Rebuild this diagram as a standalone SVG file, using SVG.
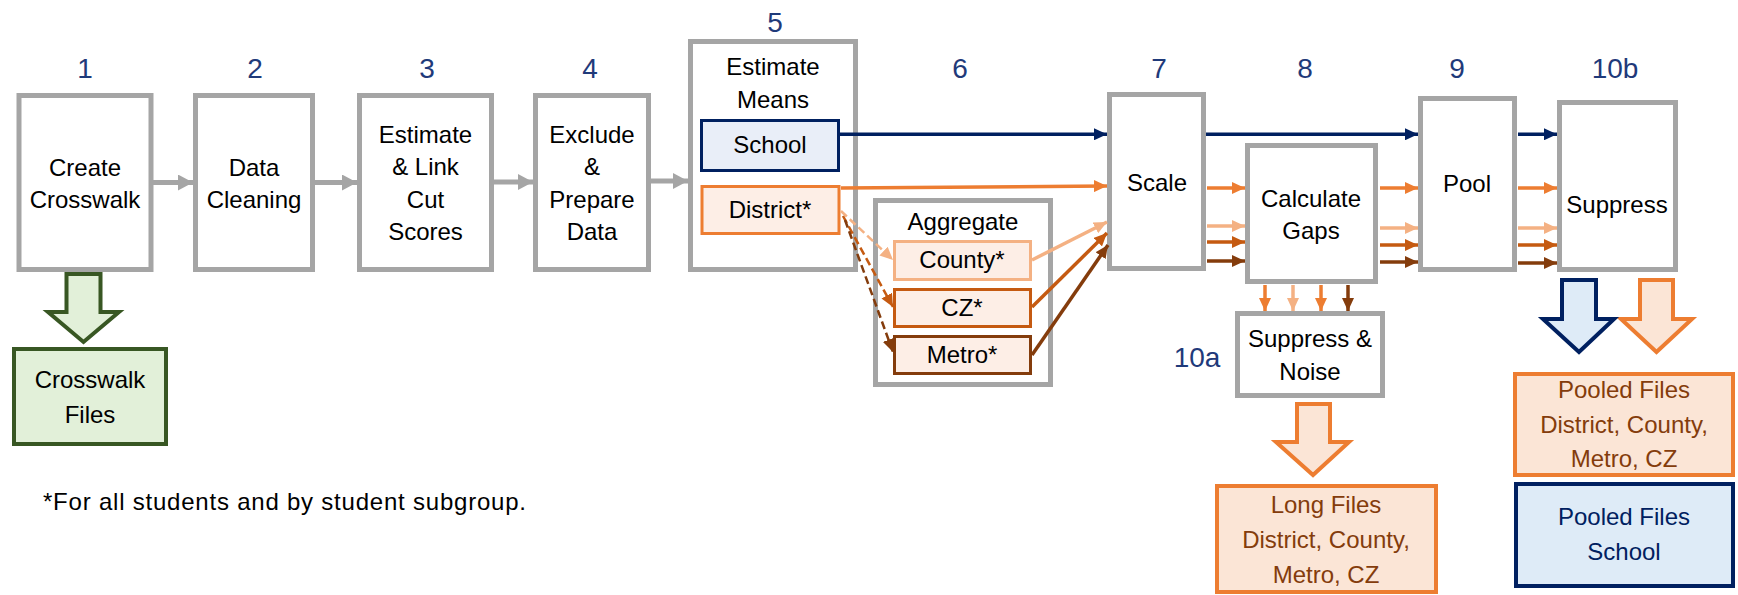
<svg xmlns="http://www.w3.org/2000/svg" width="1738" height="595" viewBox="0 0 1738 595">
  <style>
    text { font-family: "Liberation Sans", Arial, sans-serif; font-size: 24px; fill: #000; text-anchor: middle; }
    .num { font-size: 28px; fill: #1F3A7A; }
    .step { fill: #fff; stroke: #A5A5A5; stroke-width: 5; }
    .school { fill: #E9EEF8; stroke: #002060; stroke-width: 3; }
    .peach { fill: #FDEEE6; stroke-width: 3; }
    .outO { fill: #FBE5D6; stroke: #ED7D31; stroke-width: 4; }
    .outB { fill: #DEEBF7; stroke: #002060; stroke-width: 4; }
    .outG { fill: #E2F0D9; stroke: #385723; stroke-width: 4; }
    .brown { fill: #843C0C; }
    .navy { fill: #002060; }
    .gray { stroke: #A5A5A5; stroke-width: 5; fill: none; }
    .l { stroke-width: 3.5; fill: none; }
    .d { stroke-width: 2.5; fill: none; stroke-dasharray: 8 4; }
    .cN { stroke: #002060; }
    .cO { stroke: #ED7D31; }
    .cL { stroke: #F4B183; }
    .cD { stroke: #C55A11; }
    .cB { stroke: #843C0C; }
  </style>
  <defs>
    <marker id="mG" markerUnits="userSpaceOnUse" markerWidth="15" markerHeight="16" refX="15" refY="8" orient="auto"><path d="M0,0 L15,8 L0,16 z" fill="#A5A5A5"/></marker>
    <marker id="mN" markerUnits="userSpaceOnUse" markerWidth="13" markerHeight="12" refX="13" refY="6" orient="auto"><path d="M0,0 L13,6 L0,12 z" fill="#002060"/></marker>
    <marker id="mO" markerUnits="userSpaceOnUse" markerWidth="13" markerHeight="12" refX="13" refY="6" orient="auto"><path d="M0,0 L13,6 L0,12 z" fill="#ED7D31"/></marker>
    <marker id="mL" markerUnits="userSpaceOnUse" markerWidth="13" markerHeight="12" refX="13" refY="6" orient="auto"><path d="M0,0 L13,6 L0,12 z" fill="#F4B183"/></marker>
    <marker id="mD" markerUnits="userSpaceOnUse" markerWidth="13" markerHeight="12" refX="13" refY="6" orient="auto"><path d="M0,0 L13,6 L0,12 z" fill="#C55A11"/></marker>
    <marker id="mB" markerUnits="userSpaceOnUse" markerWidth="13" markerHeight="12" refX="13" refY="6" orient="auto"><path d="M0,0 L13,6 L0,12 z" fill="#843C0C"/></marker>
  </defs>

  <!-- step numbers -->
  <g id="step-numbers">
    <text class="num" x="85" y="78">1</text>
    <text class="num" x="255" y="78">2</text>
    <text class="num" x="427" y="78">3</text>
    <text class="num" x="590" y="78">4</text>
    <text class="num" x="775" y="32">5</text>
    <text class="num" x="960" y="78">6</text>
    <text class="num" x="1159" y="78">7</text>
    <text class="num" x="1305" y="78">8</text>
    <text class="num" x="1457" y="78">9</text>
    <text class="num" x="1615" y="78">10b</text>
    <text class="num" x="1197" y="367">10a</text>
  </g>

  <g id="create-crosswalk">
    <rect class="step" x="19" y="95.5" width="132" height="174"/>
    <text x="85" y="175.5">Create</text>
    <text x="85" y="208">Crosswalk</text>
  </g>
  <g id="data-cleaning">
    <rect class="step" x="195.5" y="95.5" width="117" height="174"/>
    <text x="254" y="175.5">Data</text>
    <text x="254" y="208">Cleaning</text>
  </g>
  <g id="cut-scores">
    <rect class="step" x="359.5" y="95.5" width="132" height="174"/>
    <text x="425.5" y="142.7">Estimate</text>
    <text x="425.5" y="175">&amp; Link</text>
    <text x="425.5" y="207.5">Cut</text>
    <text x="425.5" y="240">Scores</text>
  </g>
  <g id="prepare-data">
    <rect class="step" x="535.5" y="95.5" width="113" height="174"/>
    <text x="592" y="142.7">Exclude</text>
    <text x="592" y="175">&amp;</text>
    <text x="592" y="207.5">Prepare</text>
    <text x="592" y="240">Data</text>
  </g>
  <g id="estimate-means">
    <rect class="step" x="690.5" y="41.5" width="165" height="228"/>
    <text x="773" y="75">Estimate</text>
    <text x="773" y="108">Means</text>
  </g>
  <g id="school">
    <rect class="school" x="701.5" y="120.5" width="137" height="50"/>
    <text x="770" y="153">School</text>
  </g>
  <g id="district">
    <rect class="peach cO" x="702" y="186.5" width="137" height="47"/>
    <text x="770" y="218">District*</text>
  </g>
  <g id="aggregate">
    <rect class="step" x="875.5" y="200.5" width="175" height="184"/>
    <text x="963" y="230">Aggregate</text>
  </g>
  <g id="county">
    <rect class="peach cL" x="894.5" y="241.5" width="136" height="38"/>
    <text x="962" y="268">County*</text>
  </g>
  <g id="cz">
    <rect class="peach cD" x="894.5" y="289.5" width="136" height="37"/>
    <text x="962" y="316">CZ*</text>
  </g>
  <g id="metro">
    <rect class="peach cB" x="894.5" y="336.5" width="136" height="37"/>
    <text x="962" y="363">Metro*</text>
  </g>
  <g id="scale">
    <rect class="step" x="1109.5" y="94.5" width="94" height="174"/>
    <text x="1157" y="191">Scale</text>
  </g>
  <g id="calculate-gaps">
    <rect class="step" x="1247.5" y="145.5" width="128" height="136"/>
    <text x="1311" y="207">Calculate</text>
    <text x="1311" y="239">Gaps</text>
  </g>
  <g id="pool">
    <rect class="step" x="1420.5" y="98.5" width="94" height="171"/>
    <text x="1467" y="192">Pool</text>
  </g>
  <g id="suppress">
    <rect class="step" x="1559.5" y="102.5" width="116" height="167"/>
    <text x="1617" y="213">Suppress</text>
  </g>
  <g id="suppress-noise">
    <rect class="step" x="1237.5" y="313.5" width="145" height="82"/>
    <text x="1310" y="347">Suppress &amp;</text>
    <text x="1310" y="380">Noise</text>
  </g>

  <!-- output files -->
  <g id="crosswalk-files">
    <polygon class="outG" stroke-width="5" points="66.5,274 100.5,274 100.5,312 119,312 83.5,342 48,312 66.5,312"/>
    <rect class="outG" x="14" y="349" width="152" height="95"/>
    <text x="90" y="388">Crosswalk</text>
    <text x="90" y="423">Files</text>
  </g>
  <g id="long-files">
    <polygon class="outO" points="1297,404 1330,404 1330,442 1349,442 1313,475 1276,442 1297,442"/>
    <rect class="outO" x="1217" y="486" width="219" height="106"/>
    <text class="brown" x="1326" y="513">Long Files</text>
    <text class="brown" x="1326" y="548">District, County,</text>
    <text class="brown" x="1326" y="583">Metro, CZ</text>
  </g>
  <g id="pooled-files-district">
    <polygon class="outO" points="1640,280 1673,280 1673,319 1692,319 1656.5,352 1621,319 1640,319"/>
    <rect class="outO" x="1515" y="374" width="218" height="101"/>
    <text class="brown" x="1624" y="398">Pooled Files</text>
    <text class="brown" x="1624" y="433">District, County,</text>
    <text class="brown" x="1624" y="467">Metro, CZ</text>
  </g>
  <g id="pooled-files-school">
    <polygon class="outB" points="1562,280 1596,280 1596,319 1614,319 1579,352 1543,319 1562,319"/>
    <rect class="outB" x="1516" y="484" width="217" height="102"/>
    <text class="navy" x="1624" y="525">Pooled Files</text>
    <text class="navy" x="1624" y="560">School</text>
  </g>

  <g id="footnote">
    <text x="43" y="510" style="text-anchor:start" textLength="483">*For all students and by student subgroup.</text>
  </g>

  <!-- connectors -->
  <g id="connectors">
    <line class="gray" x1="153" y1="182.5" x2="193" y2="182.5" marker-end="url(#mG)"/>
    <line class="gray" x1="315" y1="182.5" x2="357" y2="182.5" marker-end="url(#mG)"/>
    <line class="gray" x1="494" y1="182" x2="533" y2="182" marker-end="url(#mG)"/>
    <line class="gray" x1="651" y1="181" x2="688" y2="181" marker-end="url(#mG)"/>

    <line class="l cN" x1="840" y1="134.3" x2="1107" y2="134.3" marker-end="url(#mN)"/>
    <line class="l cN" x1="1206" y1="134.3" x2="1418" y2="134.3" marker-end="url(#mN)"/>
    <line class="l cN" x1="1518" y1="134.3" x2="1557" y2="134.3" marker-end="url(#mN)"/>

    <line class="l cO" x1="841" y1="188" x2="1107" y2="186" marker-end="url(#mO)"/>
    <line class="l cO" x1="1207" y1="188" x2="1245" y2="188" marker-end="url(#mO)"/>
    <line class="l cO" x1="1380" y1="188" x2="1418" y2="188" marker-end="url(#mO)"/>
    <line class="l cO" x1="1518" y1="188" x2="1557" y2="188" marker-end="url(#mO)"/>

    <line class="l cL" x1="1032" y1="260" x2="1107" y2="222" marker-end="url(#mL)"/>
    <line class="l cL" x1="1207" y1="226" x2="1245" y2="226" marker-end="url(#mL)"/>
    <line class="l cL" x1="1380" y1="228" x2="1418" y2="228" marker-end="url(#mL)"/>
    <line class="l cL" x1="1518" y1="228" x2="1557" y2="228" marker-end="url(#mL)"/>

    <line class="l cD" x1="1032" y1="307" x2="1107" y2="233" marker-end="url(#mD)"/>
    <line class="l cD" x1="1207" y1="242" x2="1245" y2="242" marker-end="url(#mD)"/>
    <line class="l cD" x1="1380" y1="245" x2="1418" y2="245" marker-end="url(#mD)"/>
    <line class="l cD" x1="1518" y1="245" x2="1557" y2="245" marker-end="url(#mD)"/>

    <line class="l cB" x1="1032" y1="355" x2="1108" y2="245" marker-end="url(#mB)"/>
    <line class="l cB" x1="1207" y1="261" x2="1245" y2="261" marker-end="url(#mB)"/>
    <line class="l cB" x1="1380" y1="262" x2="1418" y2="262" marker-end="url(#mB)"/>
    <line class="l cB" x1="1518" y1="263" x2="1557" y2="263" marker-end="url(#mB)"/>

    <line class="l cO" x1="1265" y1="285" x2="1265" y2="311" marker-end="url(#mO)"/>
    <line class="l cL" x1="1293" y1="285" x2="1293" y2="311" marker-end="url(#mL)"/>
    <line class="l cO" x1="1321" y1="285" x2="1321" y2="311" marker-end="url(#mO)"/>
    <line class="l cB" x1="1348" y1="285" x2="1348" y2="311" marker-end="url(#mB)"/>

    <line class="d cL" x1="841" y1="211" x2="893" y2="260" marker-end="url(#mL)"/>
    <line class="d cD" x1="843" y1="216" x2="893" y2="307" marker-end="url(#mD)"/>
    <line class="d cB" x1="845" y1="220" x2="893" y2="352" marker-end="url(#mB)"/>
  </g>
</svg>
